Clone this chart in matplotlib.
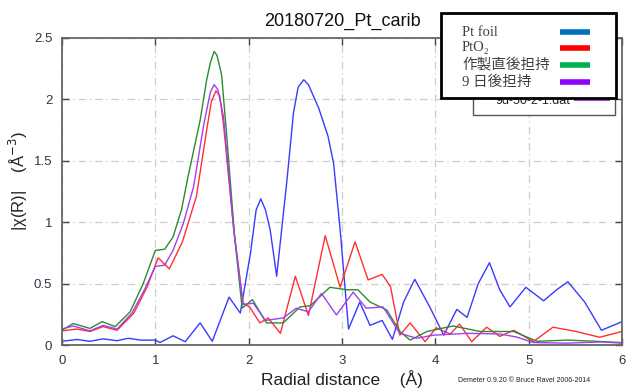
import matplotlib
matplotlib.use("Agg")
import matplotlib.pyplot as plt
from matplotlib.patches import Rectangle
from matplotlib.lines import Line2D

plt.rcParams['font.family'] = ['Liberation Sans', 'DejaVu Sans']

# |chi(R)| traces: (R, value)
r_foil = [0.00, 0.16, 0.30, 0.44, 0.59, 0.71, 0.84, 1.00, 1.05, 1.19, 1.32, 1.48,
          1.61, 1.79, 1.91, 2.02, 2.08, 2.13, 2.18, 2.23, 2.30, 2.41, 2.48, 2.53,
          2.59, 2.64, 2.75, 2.85, 2.91, 2.98, 3.07, 3.19, 3.30, 3.43, 3.54, 3.66,
          3.78, 3.94, 4.09, 4.23, 4.34, 4.46, 4.58, 4.69, 4.80, 4.97, 5.16, 5.30,
          5.42, 5.60, 5.78, 6.00]
v_foil = [0.03, 0.045, 0.03, 0.05, 0.035, 0.055, 0.04, 0.04, 0.02, 0.075, 0.027, 0.18,
          0.03, 0.39, 0.26, 0.75, 1.10, 1.19, 1.10, 0.94, 0.56, 1.34, 1.89, 2.10,
          2.16, 2.12, 1.93, 1.70, 1.48, 0.94, 0.13, 0.35, 0.16, 0.20, 0.046, 0.35,
          0.535, 0.31, 0.08, 0.29, 0.225, 0.50, 0.67, 0.45, 0.31, 0.47, 0.36, 0.45,
          0.515, 0.35, 0.12, 0.19]

r_pto2 = [0.00, 0.16, 0.30, 0.44, 0.59, 0.77, 0.91, 1.03, 1.15, 1.29, 1.44, 1.55,
          1.60, 1.65, 1.69, 1.73, 1.84, 1.94, 2.01, 2.12, 2.21, 2.34, 2.50, 2.64,
          2.82, 2.98, 3.14, 3.28, 3.43, 3.52, 3.62, 3.73, 3.89, 4.01, 4.16, 4.26,
          4.39, 4.55, 4.69, 4.84, 5.05, 5.26, 5.51, 5.76, 6.00]
v_pto2 = [0.115, 0.13, 0.11, 0.15, 0.12, 0.26, 0.47, 0.71, 0.62, 0.84, 1.21, 1.75,
          1.98, 2.07, 2.03, 1.80, 0.94, 0.34, 0.31, 0.18, 0.22, 0.095, 0.56, 0.24,
          0.89, 0.47, 0.84, 0.53, 0.575, 0.475, 0.08, 0.18, 0.027, 0.14, 0.09, 0.17,
          0.027, 0.145, 0.07, 0.12, 0.027, 0.145, 0.11, 0.063, 0.11]

r_fresh = [0.00, 0.12, 0.30, 0.43, 0.57, 0.73, 0.87, 1.00, 1.10, 1.19, 1.28, 1.35,
           1.48, 1.55, 1.59, 1.63, 1.66, 1.71, 1.76, 1.85, 1.93, 2.04, 2.19, 2.37,
           2.55, 2.66, 2.87, 3.05, 3.17, 3.30, 3.48, 3.62, 3.73, 3.91, 4.19, 4.48,
           4.84, 5.09, 5.41, 5.73, 6.00]
v_fresh = [0.12, 0.175, 0.135, 0.19, 0.15, 0.27, 0.50, 0.77, 0.78, 0.88, 1.10, 1.37,
           1.83, 2.16, 2.30, 2.39, 2.36, 2.20, 1.75, 0.88, 0.30, 0.37, 0.18, 0.18,
           0.31, 0.32, 0.47, 0.45, 0.45, 0.35, 0.285, 0.11, 0.04, 0.11, 0.155, 0.11,
           0.11, 0.03, 0.04, 0.03, 0.02]

r_9d = [0.00, 0.12, 0.30, 0.44, 0.59, 0.75, 0.89, 1.00, 1.10, 1.19, 1.30, 1.41,
        1.52, 1.59, 1.63, 1.67, 1.73, 1.84, 1.94, 2.05, 2.18, 2.37, 2.51, 2.64,
        2.78, 2.94, 3.12, 3.26, 3.44, 3.62, 3.80, 3.98, 4.34, 4.69, 4.87, 5.05,
        5.41, 5.77, 6.00]
v_9d = [0.13, 0.155, 0.115, 0.16, 0.13, 0.26, 0.46, 0.64, 0.65, 0.77, 0.99, 1.29,
        1.80, 2.06, 2.12, 2.08, 1.86, 0.94, 0.33, 0.34, 0.20, 0.22, 0.30, 0.27,
        0.42, 0.245, 0.43, 0.30, 0.31, 0.095, 0.055, 0.08, 0.095, 0.09, 0.065, 0.02,
        0.015, 0.025, 0.015]

labels = ['Pt foil', 'PtO₂', '作製直後担持', '9 日後担持']
key_colors = ['#0070c0', '#ff0000', '#00b050', '#9000ff']

W, H = 632, 389
fig = plt.figure(figsize=(6.32, 3.89), dpi=100)
ax = fig.add_axes([62 / W, 1 - 345 / H, 560 / W, 307 / H])

ax.plot(r_foil, v_foil, color='#3a3aff', lw=1.0)
ax.plot(r_pto2, v_pto2, color='#ff3030', lw=1.0)
ax.plot(r_fresh, v_fresh, color='#2e8a2e', lw=1.0)
ax.plot(r_9d, v_9d, color='#a040f0', lw=1.0)

ax.set_xlim(0, 6)
ax.set_ylim(0, 2.5)
ax.set_xticks(range(0, 7))
ax.set_yticks([0, 0.5, 1, 1.5, 2, 2.5])
ax.set_yticklabels(['0', '0.5', '1', '1.5', '2', '2.5'])
ax.grid(True, color='#cccccc', lw=0.9, linestyle=(0, (6, 3, 1, 3)))
ax.tick_params(direction='in', length=5, width=1, color='#444444',
               top=True, right=True, labelsize=9.5, labelcolor='#333344', pad=7)
for s in ax.spines.values():
    s.set_color('#666666')
    s.set_linewidth(1.3)

fig.text(342 / W, 1 - 26 / H, '20180720_Pt_carib', ha='center', va='baseline',
         fontsize=13, color='#111111')
fig.text(342 / W, 1 - 388 / H, 'Radial distance    (Å)', ha='center', va='bottom',
         fontsize=12.5, color='#222222')
fig.text(18 / W, 1 - 181 / H, '|χ(R)|    (Å$^{\\mathsf{-3}}$)', ha='center', va='center',
         rotation=90, fontsize=12, color='#222222')
fig.text(524 / W, 1 - 381 / H, 'Demeter 0.9.20 © Bruce Ravel 2006-2014', ha='center',
         va='center', fontsize=5, color='#222222')

# gnuplot key box, mostly hidden behind the overlay
fig.patches.append(Rectangle((473 / W, 1 - 115 / H), 142 / W, 75 / H,
                             transform=fig.transFigure, facecolor='white',
                             edgecolor='#555555', lw=1.0, zorder=5))
fig.text(533 / W, 1 - 101 / H, '9d-50-2-1.dat', ha='center', va='center',
         fontsize=9, color='#222222', zorder=6)
fig.lines.append(Line2D([575 / W, 609 / W], [1 - 100 / H, 1 - 100 / H],
                        transform=fig.transFigure, color='#a040f0', lw=1.5, zorder=6))

# overlay legend
fig.patches.append(Rectangle((441 / W, 1 - 98 / H), 175 / W, 85 / H,
                             transform=fig.transFigure, facecolor='white',
                             edgecolor='black', lw=2.0, zorder=10))
rows = [32, 48, 65, 82]
for lab, col, y in zip(labels, key_colors, rows):
    fig.text(462 / W, 1 - y / H, lab, ha='left', va='center', fontsize=10.5,
             color='#404040', family=['Liberation Serif', 'Noto Sans CJK JP', 'DejaVu Serif'],
             zorder=11)
    fig.lines.append(Line2D([560 / W, 590 / W], [1 - y / H, 1 - y / H],
                            transform=fig.transFigure, color=col, lw=4, zorder=11,
                            solid_capstyle='butt'))

fig.savefig('out.png', dpi=100)
